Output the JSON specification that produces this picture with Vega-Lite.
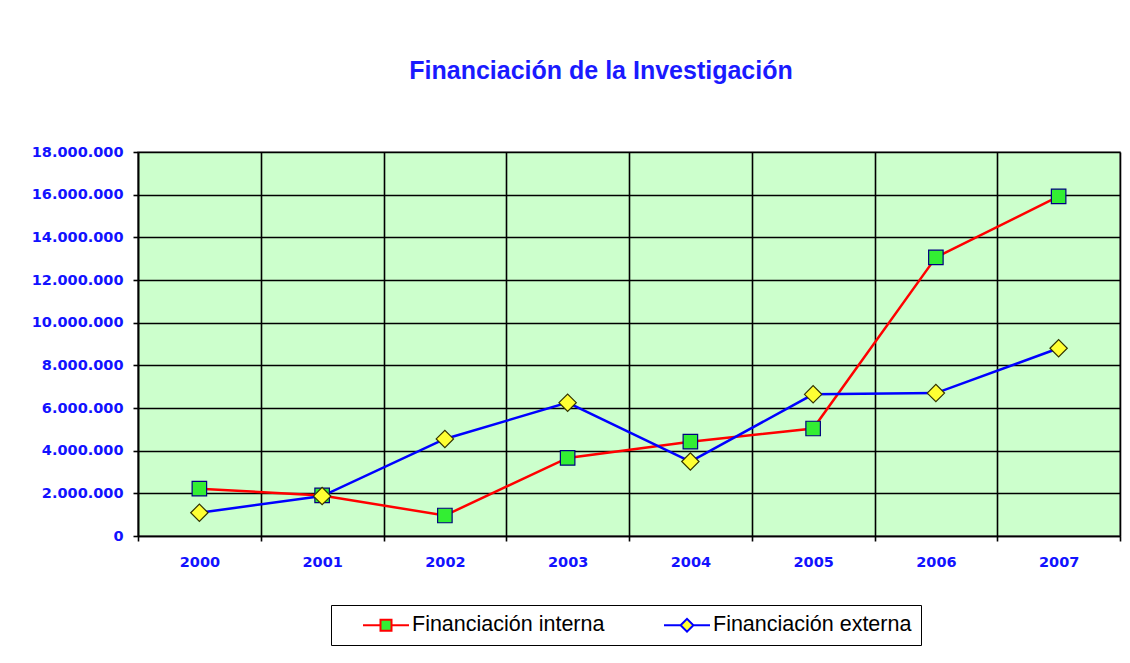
{
  "$schema": "https://vega.github.io/schema/vega-lite/v6.json",
  "width": 982,
  "height": 384,
  "autosize": "none",
  "padding": {"left": 138, "top": 152, "right": 10, "bottom": 127},
  "background": "white",
  "config": {
    "locale": {"number": {"decimal": ",", "thousands": ".", "grouping": [3], "currency": ["", " €"]}},
    "view": {"fill": "#ccffcc", "stroke": "#808080", "strokeWidth": 1.5}
  },
  "title": {
    "text": "Financiación de la Investigación",
    "font": "Liberation Sans",
    "fontSize": 25,
    "fontWeight": "bold",
    "color": "#1a1aff",
    "anchor": "middle",
    "dx": -28,
    "offset": 60
  },
  "data": {
    "values": [
      {"year": "2000", "series": "Financiación interna", "value": 2220000},
      {"year": "2001", "series": "Financiación interna", "value": 1900000},
      {"year": "2002", "series": "Financiación interna", "value": 960000},
      {"year": "2003", "series": "Financiación interna", "value": 3660000},
      {"year": "2004", "series": "Financiación interna", "value": 4420000},
      {"year": "2005", "series": "Financiación interna", "value": 5040000},
      {"year": "2006", "series": "Financiación interna", "value": 13060000},
      {"year": "2007", "series": "Financiación interna", "value": 15920000},
      {"year": "2000", "series": "Financiación externa", "value": 1090000},
      {"year": "2001", "series": "Financiación externa", "value": 1870000},
      {"year": "2002", "series": "Financiación externa", "value": 4550000},
      {"year": "2003", "series": "Financiación externa", "value": 6250000},
      {"year": "2004", "series": "Financiación externa", "value": 3490000},
      {"year": "2005", "series": "Financiación externa", "value": 6640000},
      {"year": "2006", "series": "Financiación externa", "value": 6700000},
      {"year": "2007", "series": "Financiación externa", "value": 8800000}
    ]
  },
  "encoding": {
    "x": {
      "field": "year",
      "type": "ordinal",
      "scale": {"type": "band", "paddingInner": 0, "paddingOuter": 0},
      "axis": {
        "title": null,
        "labelAngle": 0,
        "tickBand": "extent",
        "grid": true,
        "gridColor": "#000000",
        "gridWidth": 1.6,
        "domainColor": "#000000",
        "domainWidth": 1.6,
        "tickColor": "#000000",
        "tickSize": 5,
        "tickWidth": 1.6,
        "labelFont": "DejaVu Sans",
        "labelFontSize": 14.5,
        "labelFontWeight": "bold",
        "labelColor": "#1212ff",
        "labelPadding": 14
      }
    },
    "y": {
      "field": "value",
      "type": "quantitative",
      "scale": {"domain": [0, 18000000], "nice": false},
      "axis": {
        "title": null,
        "values": [0, 2000000, 4000000, 6000000, 8000000, 10000000, 12000000, 14000000, 16000000, 18000000],
        "format": ",d",
        "grid": true,
        "gridColor": "#000000",
        "gridWidth": 1.6,
        "domainColor": "#000000",
        "domainWidth": 1.6,
        "tickColor": "#000000",
        "tickSize": 5,
        "tickWidth": 1.6,
        "labelFont": "DejaVu Sans",
        "labelFontSize": 14.5,
        "labelFontWeight": "bold",
        "labelColor": "#1212ff",
        "labelPadding": 10
      }
    }
  },
  "layer": [
    {
      "mark": {"type": "line", "strokeWidth": 2.5},
      "encoding": {
        "color": {
          "field": "series",
          "type": "nominal",
          "sort": ["Financiación interna", "Financiación externa"],
          "scale": {"domain": ["Financiación interna", "Financiación externa"], "range": ["#ff0000", "#0000ff"]},
          "legend": {
            "title": null,
            "orient": "none",
            "legendX": 193,
            "legendY": 453,
            "direction": "horizontal",
            "strokeColor": "#000000",
            "fillColor": "#ffffff",
            "padding": 9,
            "symbolSize": 400,
            "symbolOffset": 35,
            "symbolStrokeWidth": 2,
            "labelOffset": 15,
            "columnPadding": 36,
            "labelFont": "Liberation Sans",
            "labelFontSize": 21.5,
            "labelColor": "#000000",
            "labelLimit": 400,
            "encode": {
              "symbols": {
                "update": {
                  "shape": {"signal": "datum.label === 'Financiación interna' ? 'M-2.3,0H-0.55M0.55,0H2.3M-0.55,-0.55H0.55V0.55H-0.55Z' : 'M-2.3,0H-0.64M0.64,0H2.3M-0.64,0L0,-0.64L0.64,0L0,0.64Z'"},
                  "fill": {"signal": "datum.label === 'Financiación interna' ? '#33ee33' : '#ffff33'"},
                  "fillOpacity": {"value": 1}
                }
              }
            }
          }
        }
      }
    },
    {
      "mark": {"type": "point", "filled": true, "opacity": 1, "strokeWidth": 1.2},
      "encoding": {
        "shape": {"condition": {"test": "datum.series === 'Financiación interna'", "value": "square"}, "value": "diamond"},
        "fill": {"condition": {"test": "datum.series === 'Financiación interna'", "value": "#33ee33"}, "value": "#ffff33"},
        "stroke": {"condition": {"test": "datum.series === 'Financiación interna'", "value": "#000080"}, "value": "#333300"},
        "size": {"condition": {"test": "datum.series === 'Financiación interna'", "value": 210}, "value": 300}
      }
    }
  ]
}
